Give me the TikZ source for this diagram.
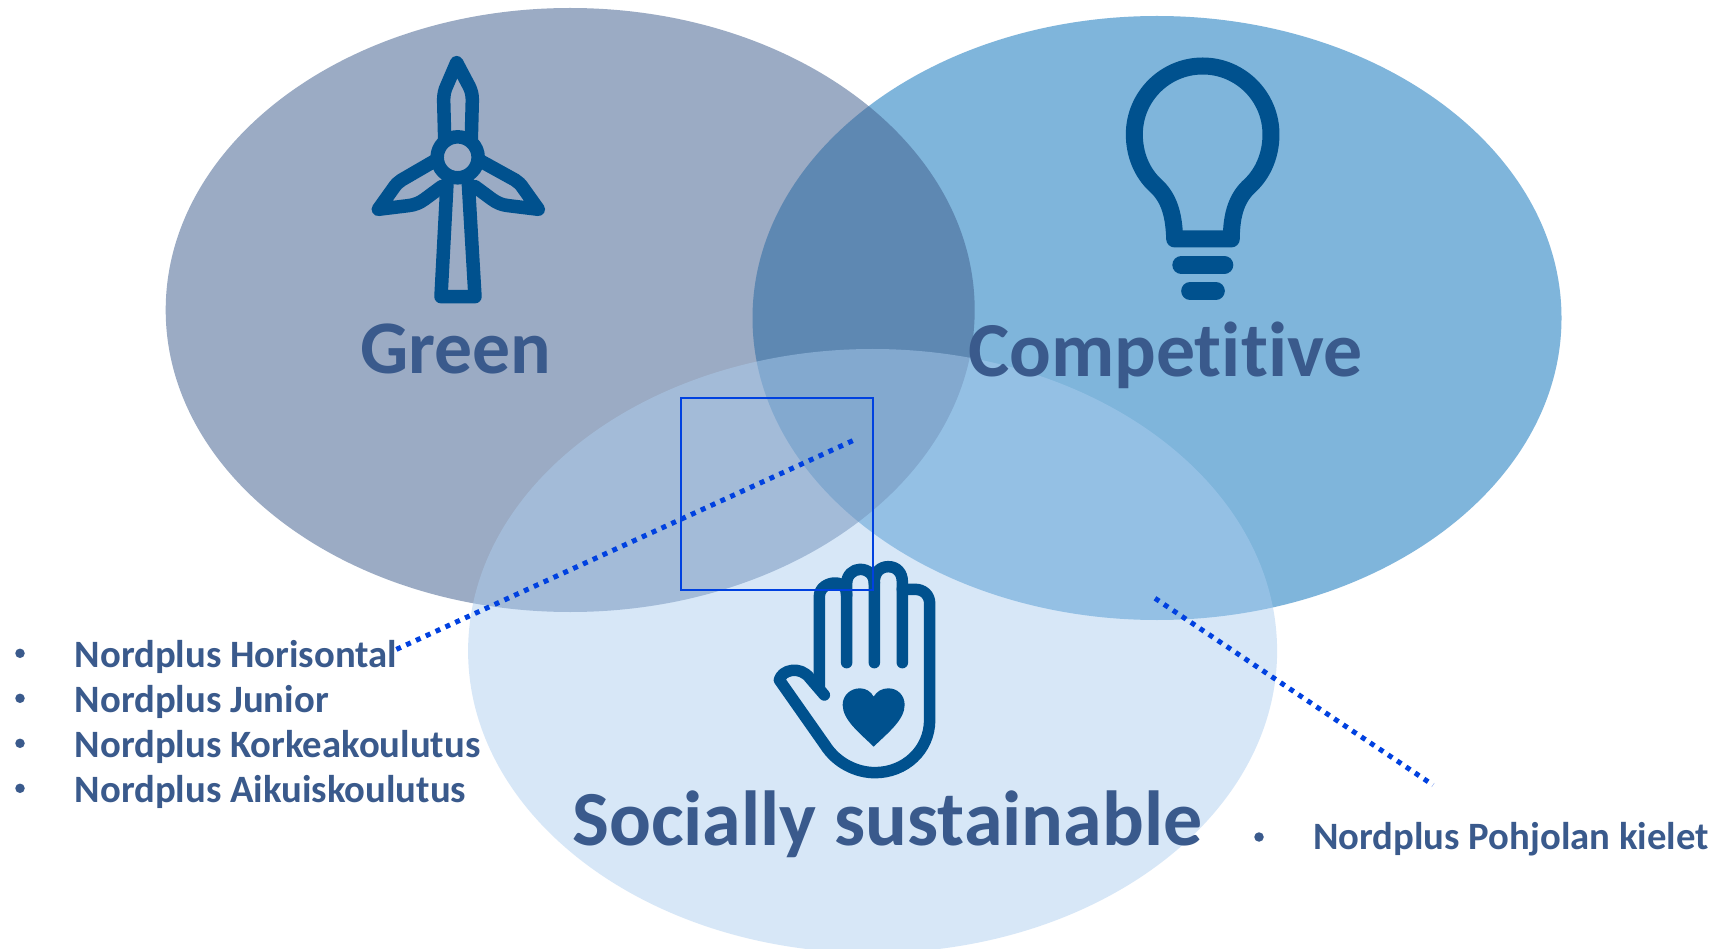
\documentclass[tikz,border=0pt]{standalone}
\usepackage{fontspec}
\setmainfont{Carlito}[Ligatures=NoCommon]
\usetikzlibrary{shapes.geometric}
\definecolor{txt}{HTML}{3A5A8C}
\definecolor{icon}{HTML}{00518E}
\definecolor{edge}{HTML}{0041E0}
\tikzset{
 blob/.style={ellipse,draw=none,inner sep=0pt,minimum width=809pt,minimum height=604pt},
 title/.style={anchor=base west,inner sep=0pt,text=txt,font=\bfseries},
 item/.style={anchor=base west,inner sep=0pt,text=txt,font=\fontsize{38.7}{38.7}\selectfont\bfseries},
 dotb/.style={circle,fill=txt,inner sep=0pt,minimum size=9.5pt},
 iconline/.style={draw=icon,line join=round,line cap=round},
 leader/.style={draw=edge,line width=5pt,dash pattern=on 5pt off 5.8pt},
 framebox/.style={draw=edge,line width=1.7pt,inner sep=0pt,minimum width=192pt,minimum height=192pt}
}
\begin{document}
\begin{tikzpicture}[x=1pt,y=-1pt]
\useasboundingbox (0,0) rectangle (1724,949);
\clip (0,0) rectangle (1724,949);
\fill[white] (0,0) rectangle (1724,949);
% circles
\node[blob,fill={rgb,255:red,127;green,181;blue,219}] (competitive) at (1157,318) {};
\node[blob,fill={rgb,255:red,65;green,95;blue,142},fill opacity=.52] (green) at (570.2,310) {};
\node[blob,fill={rgb,255:red,172;green,206;blue,240},fill opacity=.475] (social) at (872.6,651) {};
% titles
\node[title,font=\fontsize{75.7}{75.7}\selectfont\bfseries] (tgreen) at (360,373.5) {Green};
\node[title,font=\fontsize{77.8}{77.8}\selectfont\bfseries] (tcomp) at (968,377) {Competitive};
\node[title,font=\fontsize{78}{78}\selectfont\bfseries] (tsoc) at (572,845) {Socially sustainable};
% lists
\node[dotb] (b1) at (20,653.3) {};
\node[dotb] (b2) at (20,698.3) {};
\node[dotb] (b3) at (20,743.3) {};
\node[dotb] (b4) at (20,788.3) {};
\node[item] (l1) at (74.5,667.7) {Nordplus Horisontal};
\node[item] (l2) at (74.5,712.7) {Nordplus Junior};
\node[item] (l3) at (74.5,757.7) {Nordplus Korkeakoulutus};
\node[item] (l4) at (74.5,802.7) {Nordplus Aikuiskoulutus};
\node[dotb] (b5) at (1259,837) {};
\node[item] (l5) at (1313,849.5) {Nordplus Pohjolan kielet};
% wind turbine
\begin{scope}[shift={(340,30)},x=.3333pt,y=-.3333pt]
 \draw[iconline,line width=13.5pt] (314,325) -- (311,210) .. controls (311,195) and (314,180) .. (320,168) -- (350,98) -- (388,170) .. controls (394,182) and (397,195) .. (397,210) -- (394,325);
 \draw[iconline,line width=13.5pt] (353,382) circle[radius=61.5];
 \draw[iconline,line width=13.5pt] (285,392) -- (185,450) .. controls (175,456) and (168,463) .. (160,475) -- (115,538) -- (205,527) .. controls (225,525) and (240,518) .. (255,507) -- (305,470);
 \draw[iconline,line width=13.5pt] (420,392) -- (525,450) .. controls (535,456) and (542,463) .. (550,475) -- (595,538) -- (505,527) .. controls (485,525) and (470,518) .. (455,507) -- (405,470);
 \draw[iconline,line width=13.5pt] (321,460) -- (303,800) -- (405,800) -- (385,460);
\end{scope}
% bulb
\begin{scope}[shift={(1100,40)},x=.3333pt,y=-.3333pt]
 \draw[iconline,line width=17pt] (224,597) .. controls (222,520) and (205,470) .. (165,435) .. controls (125,397) and (103,343) .. (103,283) .. controls (103,170) and (195,78) .. (308,78) .. controls (421,78) and (513,170) .. (513,283) .. controls (513,343) and (491,397) .. (452,435) .. controls (412,470) and (394,520) .. (394,597) -- cycle;
 \draw[iconline,line width=18pt] (244,675) -- (373,675);
 \draw[iconline,line width=17.7pt] (270,753) -- (348,753);
\end{scope}
% hand
\begin{scope}[shift={(760,550)},x=.3333pt,y=-.3333pt]
 \draw[iconline,line width=11.5pt] (178,415) -- (178,140) .. controls (178,112) and (205,99) .. (225,99) .. controls (250,99) and (260,115) .. (260,135);
 \draw[iconline,line width=11.5pt] (260,338) -- (260,100) .. controls (260,75) and (280,58) .. (300,58) .. controls (325,58) and (343,75) .. (343,100);
 \draw[iconline,line width=11.5pt] (343,338) -- (343,95) .. controls (343,68) and (360,50) .. (385,50) .. controls (410,50) and (427,68) .. (427,95) -- (427,338);
 \draw[iconline,line width=11.5pt] (427,118) -- (465,118) .. controls (490,118) and (509,135) .. (509,160) -- (509,510) .. controls (509,600) and (435,668) .. (345,668) .. controls (290,668) and (230,640) .. (195,585) -- (58,390) .. controls (65,360) and (120,345) .. (150,385) -- (193,435);
 \fill[icon] (341,590) .. controls (300,550) and (248,510) .. (248,465) .. controls (248,435) and (272,415) .. (300,415) .. controls (318,415) and (333,425) .. (341,440) .. controls (350,425) and (365,415) .. (385,415) .. controls (412,415) and (434,435) .. (434,465) .. controls (434,510) and (382,550) .. (341,590) -- cycle;
\end{scope}
% overlays
\node[framebox] (frame) at (776.7,494) {};
\coordinate (la) at (852.7,440.7);
\coordinate (lb) at (395,650);
\coordinate (ra) at (1155,598.3);
\coordinate (rb) at (1433,785);
\draw[leader] (la) -- (lb);
\draw[leader] (ra) -- (rb);
\end{tikzpicture}
\end{document}
